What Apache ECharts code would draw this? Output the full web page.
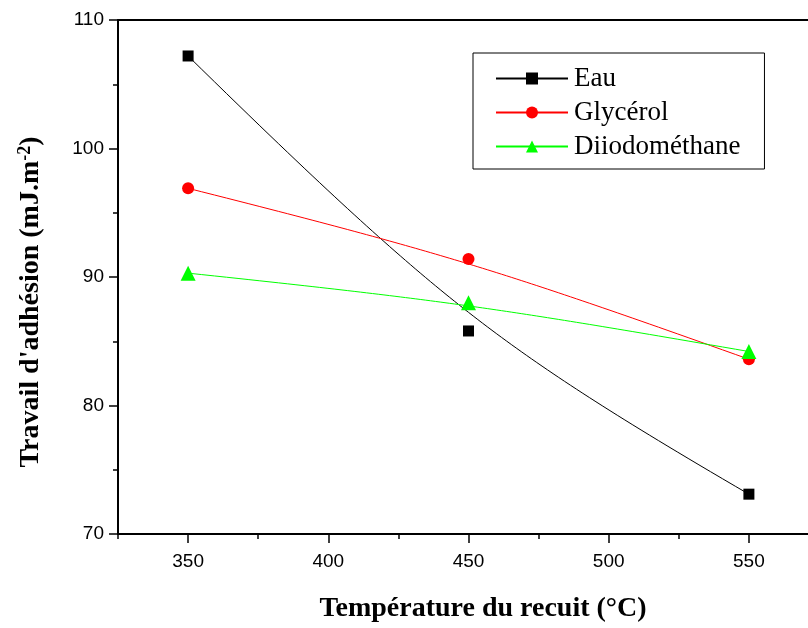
<!DOCTYPE html>
<html>
<head>
<meta charset="utf-8">
<script src="https://cdn.jsdelivr.net/npm/echarts@6/dist/echarts.min.js"></script>
<style>
  html, body { margin: 0; padding: 0; background: #ffffff; }
  #chart { width: 808px; height: 628px; }
</style>
</head>
<body>
<div id="chart"></div>
<script>
// Annealing temperatures (°C) and work of adhesion (mJ.m-2) per test liquid
const temperatures = [350, 450, 550];
const eau = [107.2, 85.8, 73.1];
const glycerol = [96.9, 91.4, 83.6];
const diiodomethane = [90.3, 88.0, 84.2];

const seriesNames = ['Eau', 'Glycérol', 'Diiodométhane'];
const xTickValues = [350, 400, 450, 500, 550];
const xMinorTickValues = [325, 375, 425, 475, 525, 575];
const yTickValues = [70, 80, 90, 100, 110];

// B-spline style curve: the three measured points act as the control polygon
// of a rational quadratic Bézier (the middle point pulls the curve, it is not crossed).
function bsplineCurve(xs, ys, weight, steps) {
  const pts = [];
  for (let i = 0; i <= steps; i++) {
    const t = i / steps;
    const b0 = (1 - t) * (1 - t);
    const b1 = 2 * weight * t * (1 - t);
    const b2 = t * t;
    const d = b0 + b1 + b2;
    pts.push([
      (b0 * xs[0] + b1 * xs[1] + b2 * xs[2]) / d,
      (b0 * ys[0] + b1 * ys[1] + b2 * ys[2]) / d
    ]);
  }
  return pts;
}

const styles = [
  { values: eau, color: '#000000', symbol: 'rect', size: 11 },
  { values: glycerol, color: '#ff0000', symbol: 'circle', size: 12 },
  { values: diiodomethane, color: '#00ff00', symbol: 'triangle', size: 15 }
];

const series = [];
styles.forEach((s, i) => {
  series.push({
    name: seriesNames[i],
    type: 'line',
    data: bsplineCurve(temperatures, s.values, 2, 80),
    symbol: s.symbol,
    symbolSize: s.size,
    showSymbol: false,
    lineStyle: { color: s.color, width: 1 },
    itemStyle: { color: s.color },
    silent: true,
    z: 2
  });
});
styles.forEach((s, i) => {
  series.push({
    name: seriesNames[i],
    type: 'scatter',
    data: temperatures.map((t, k) => [t, s.values[k]]),
    symbol: s.symbol,
    symbolSize: s.size,
    itemStyle: { color: s.color, opacity: 1 },
    silent: true,
    z: 3
  });
});

const chart = echarts.init(document.getElementById('chart'), null, { renderer: 'canvas' });

const axisBlack = { color: '#000000', width: 2 };
const tickStyle = { color: '#000000', width: 1.5 };

chart.setOption({
  backgroundColor: '#ffffff',
  animation: false,
  grid: { left: 118, top: 20, width: 701, height: 514, containLabel: false, outerBoundsMode: 'none' },
  legend: {
    data: seriesNames,
    orient: 'vertical',
    left: 473,
    top: 53,
    padding: [12, 24, 9, 22],
    itemGap: 7,
    itemWidth: 72,
    itemHeight: 15,
    borderColor: '#000000',
    borderWidth: 1,
    backgroundColor: '#ffffff',
    selectedMode: false,
    textStyle: {
      fontFamily: '"Liberation Serif", "Times New Roman", serif',
      fontSize: 27,
      lineHeight: 27,
      color: '#000000',
      padding: [0, 0, 0, 1]
    }
  },
  xAxis: [
    {
      type: 'value',
      position: 'bottom',
      min: 325,
      max: 575,
      axisLine: { show: true, onZero: false, lineStyle: axisBlack },
      axisTick: { show: true, inside: false, length: 9, customValues: xTickValues, lineStyle: tickStyle },
      axisLabel: {
        show: true,
        customValues: xTickValues,
        margin: 18,
        color: '#000000',
        fontFamily: '"Liberation Sans", Arial, sans-serif',
        fontSize: 19
      },
      splitLine: { show: false }
    },
    {
      type: 'value',
      position: 'bottom',
      min: 325,
      max: 575,
      axisLine: { show: false },
      axisTick: { show: true, inside: false, length: 5, customValues: xMinorTickValues, lineStyle: tickStyle },
      axisLabel: { show: false },
      splitLine: { show: false }
    },
    {
      type: 'value',
      position: 'top',
      min: 325,
      max: 575,
      axisLine: { show: true, onZero: false, lineStyle: axisBlack },
      axisTick: { show: false },
      axisLabel: { show: false },
      splitLine: { show: false }
    }
  ],
  yAxis: {
    type: 'value',
    min: 70,
    max: 110,
    interval: 10,
    axisLine: { show: true, onZero: false, lineStyle: axisBlack },
    axisTick: { show: true, inside: false, length: 9, customValues: yTickValues, lineStyle: tickStyle },
    minorTick: { show: true, splitNumber: 2, length: 5, lineStyle: tickStyle },
    axisLabel: {
      margin: 14,
      color: '#000000',
      fontFamily: '"Liberation Sans", Arial, sans-serif',
      fontSize: 19
    },
    splitLine: { show: false },
    minorSplitLine: { show: false }
  },
  graphic: [
    {
      type: 'text',
      x: 483,
      y: 609,
      style: {
        text: 'Température du recuit (°C)',
        font: 'bold 28px "Liberation Serif", "Times New Roman", serif',
        fill: '#000000',
        align: 'center',
        verticalAlign: 'middle'
      }
    },
    {
      type: 'text',
      x: 31,
      y: 302,
      rotation: Math.PI / 2,
      style: {
        text: "Travail d'adhésion (mJ.m{sup|-2})",
        font: 'bold 28px "Liberation Serif", "Times New Roman", serif',
        fill: '#000000',
        align: 'center',
        verticalAlign: 'middle',
        rich: {
          sup: {
            font: 'bold 18px "Liberation Serif", "Times New Roman", serif',
            fill: '#000000',
            verticalAlign: 'top',
            padding: [0, 0, 12, 0]
          }
        }
      }
    }
  ],
  series: series
});
</script>
</body>
</html>
